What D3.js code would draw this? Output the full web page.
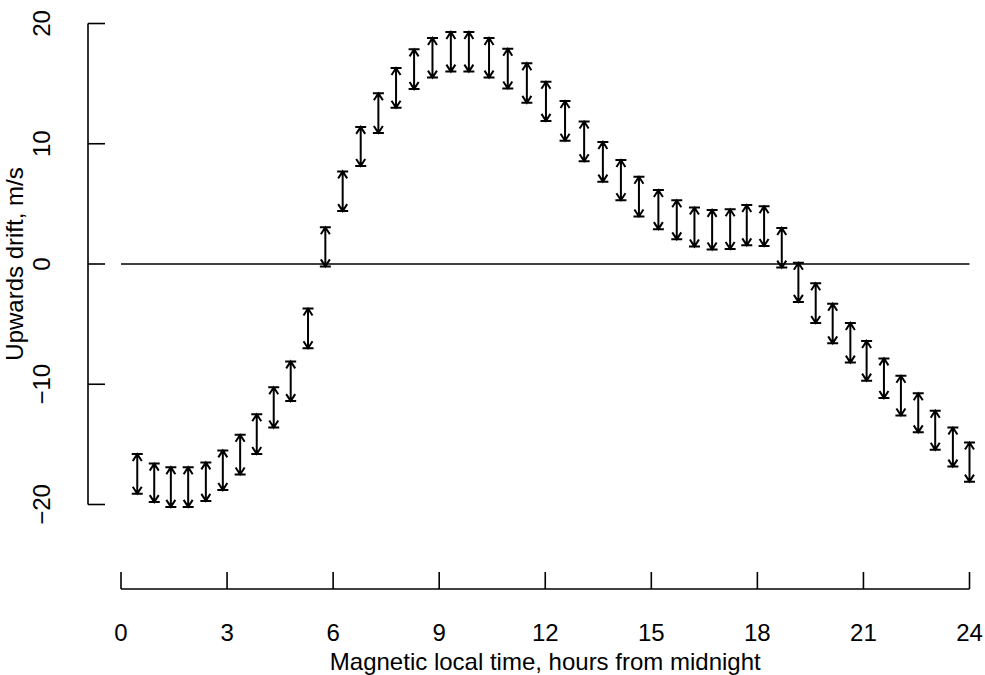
<!DOCTYPE html>
<html>
<head>
<meta charset="utf-8">
<script src="https://cdn.jsdelivr.net/npm/d3@7"></script>
<style>
  body { margin: 0; background: #fff; }
  svg text { font-family: 'Liberation Sans', Arial, sans-serif; fill: #000; }
</style>
</head>
<body>
<div id="chart"></div>
<script>
// magnetic local time (hours) of each measurement
var mlt = [0.46, 0.94, 1.41, 1.90, 2.40, 2.88, 3.37, 3.84, 4.32, 4.80, 5.29, 5.78,
           6.27, 6.78, 7.28, 7.78, 8.29, 8.81, 9.33, 9.84, 10.41, 10.94, 11.48, 12.02,
           12.56, 13.10, 13.63, 14.14, 14.65, 15.20, 15.72, 16.22, 16.72, 17.23, 17.70, 18.19,
           18.69, 19.16, 19.65, 20.13, 20.63, 21.09, 21.58, 22.06, 22.55, 23.03, 23.53, 24.00];

// lower and upper ends of each drift interval, m/s
var driftLow = [-19.1, -19.8, -20.2, -20.2, -19.7, -18.8, -17.5, -15.8, -13.6, -11.4, -7.0, -0.2,
                4.4, 8.15, 10.9, 13.0, 14.55, 15.5, 16.0, 16.0, 15.5, 14.6, 13.4, 11.9,
                10.25, 8.55, 6.85, 5.3, 3.95, 2.9, 2.05, 1.45, 1.2, 1.25, 1.55, 1.5,
                -0.3, -3.15, -4.9, -6.6, -8.2, -9.7, -11.15, -12.6, -14.0, -15.45, -16.85, -18.1];
var driftHigh = [-15.8, -16.6, -16.9, -16.9, -16.5, -15.5, -14.2, -12.5, -10.25, -8.1, -3.7, 3.05,
                 7.7, 11.4, 14.2, 16.3, 17.85, 18.8, 19.3, 19.3, 18.8, 17.9, 16.7, 15.15,
                 13.55, 11.85, 10.15, 8.65, 7.25, 6.15, 5.3, 4.7, 4.5, 4.55, 4.9, 4.8,
                 3.0, 0.1, -1.6, -3.3, -4.9, -6.4, -7.85, -9.3, -10.75, -12.2, -13.6, -14.85];

var xTicks = [0, 3, 6, 9, 12, 15, 18, 21, 24];
var yTicks = [-20, -10, 0, 10, 20];

var data = mlt.map(function(t, i) {
    return { t: t, lo: driftLow[i], hi: driftHigh[i] };
});

var width = 985, height = 675;

var svg = d3.select('#chart').append('svg')
        .attr('width', width)
        .attr('height', height);

var x = d3.scaleLinear().domain([0, 24]).range([121, 969.5]),
    y = d3.scaleLinear().domain([-20, 20]).range([504.5, 23.5]);

var fontSize = 24;

// x axis sits below the plot, ticks point up
var xAxisY = 589;
var gx = svg.append('g').attr('class', 'x-axis');
gx.append('line')
    .attr('x1', x(0)).attr('x2', x(24))
    .attr('y1', xAxisY).attr('y2', xAxisY)
    .attr('stroke', '#000').attr('stroke-width', 1.6);
gx.selectAll('.tick')
    .data(xTicks)
    .enter().append('line')
    .attr('class', 'tick')
    .attr('x1', function(d) { return x(d); })
    .attr('x2', function(d) { return x(d); })
    .attr('y1', xAxisY).attr('y2', xAxisY - 17)
    .attr('stroke', '#000').attr('stroke-width', 1.6);
gx.selectAll('.lab')
    .data(xTicks)
    .enter().append('text')
    .attr('class', 'lab')
    .attr('x', function(d) { return x(d); })
    .attr('y', 641)
    .attr('text-anchor', 'middle')
    .style('font-size', fontSize + 'px')
    .text(function(d) { return d; });
svg.append('text')
    .attr('x', x(12))
    .attr('y', 670)
    .attr('text-anchor', 'middle')
    .style('font-size', fontSize + 'px')
    .text('Magnetic local time, hours from midnight');

// y axis on the left, ticks point right
var yAxisX = 88;
var gy = svg.append('g').attr('class', 'y-axis');
gy.append('line')
    .attr('x1', yAxisX).attr('x2', yAxisX)
    .attr('y1', y(-20)).attr('y2', y(20))
    .attr('stroke', '#000').attr('stroke-width', 1.6);
gy.selectAll('.tick')
    .data(yTicks)
    .enter().append('line')
    .attr('class', 'tick')
    .attr('x1', yAxisX).attr('x2', yAxisX + 17)
    .attr('y1', function(d) { return y(d); })
    .attr('y2', function(d) { return y(d); })
    .attr('stroke', '#000').attr('stroke-width', 1.6);
gy.selectAll('.lab')
    .data(yTicks)
    .enter().append('text')
    .attr('class', 'lab')
    .attr('transform', function(d) { return 'translate(50,' + y(d) + ') rotate(-90)'; })
    .attr('text-anchor', 'middle')
    .style('font-size', fontSize + 'px')
    .text(function(d) { return d < 0 ? '\u2212' + Math.abs(d) : d; });
svg.append('text')
    .attr('transform', 'translate(23,' + y(0) + ') rotate(-90)')
    .attr('text-anchor', 'middle')
    .style('font-size', fontSize + 'px')
    .text('Upwards drift, m/s');

// zero reference line
svg.append('line')
    .attr('x1', x(0)).attr('x2', x(24))
    .attr('y1', y(0)).attr('y2', y(0))
    .attr('stroke', '#000').attr('stroke-width', 1.6);

// double-headed arrows with end bars
var cap = 5.5, headW = 4.5, headL = 7;
svg.selectAll('.arrow')
    .data(data)
    .enter().append('path')
    .attr('class', 'arrow')
    .attr('fill', 'none')
    .attr('stroke', '#000')
    .attr('stroke-width', 2)
    .attr('d', function(d) {
        var cx = x(d.t), yt = y(d.hi), yb = y(d.lo);
        return 'M' + cx + ',' + yb + 'L' + cx + ',' + yt +
            'M' + (cx - cap) + ',' + yt + 'L' + (cx + cap) + ',' + yt +
            'M' + (cx - cap) + ',' + yb + 'L' + (cx + cap) + ',' + yb +
            'M' + (cx - headW) + ',' + (yt + headL) + 'L' + cx + ',' + yt + 'L' + (cx + headW) + ',' + (yt + headL) +
            'M' + (cx - headW) + ',' + (yb - headL) + 'L' + cx + ',' + yb + 'L' + (cx + headW) + ',' + (yb - headL);
    });
</script>
</body>
</html>
